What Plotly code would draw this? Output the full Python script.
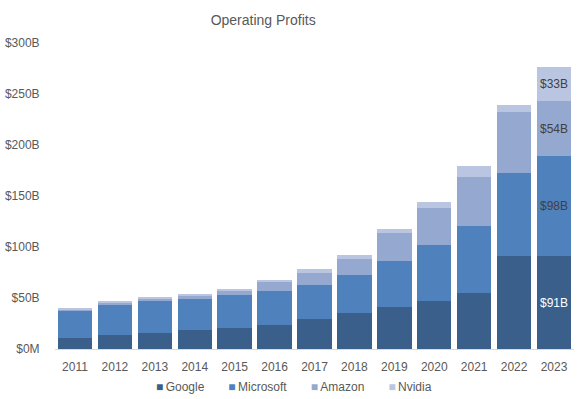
import plotly.graph_objects as go

years = ["2011", "2012", "2013", "2014", "2015", "2016", "2017",
         "2018", "2019", "2020", "2021", "2022", "2023"]
google = [10.8, 13.4, 16.0, 18.9, 20.9, 23.8, 29.1, 35.3, 41.2, 47.1, 54.9, 90.8, 91]
microsoft = [26.7, 30.0, 31.4, 30.4, 32.3, 33.4, 33.3, 37.2, 45.1, 54.9, 65.3, 81.7, 98]
amazon = [1.4, 1.7, 1.9, 3.0, 4.3, 8.2, 12.4, 16.1, 27.7, 36.5, 48.4, 59.8, 54]
nvidia = [1.0, 1.0, 1.0, 1.6, 1.3, 2.2, 3.6, 3.6, 3.3, 5.3, 11.1, 6.5, 33]

tick_vals = [0, 50, 100, 150, 200, 250, 300]
tick_text = ["$0M", "$50B", "$100B", "$150B", "$200B", "$250B", "$300B"]

series = [
    ("Google", google, "#3A5F8B", "#FFFFFF"),
    ("Microsoft", microsoft, "#4F81BD", "#404040"),
    ("Amazon", amazon, "#95A9D0", "#404040"),
    ("Nvidia", nvidia, "#BAC6E1", "#404040"),
]

FONT = "Liberation Sans, Arial, sans-serif"

fig = go.Figure()
for name, vals, color, tcolor in series:
    labels = [""] * (len(vals) - 1) + ["$%dB" % round(vals[-1])]
    fig.add_trace(go.Bar(
        x=years, y=vals, name=name,
        marker=dict(color=color, line=dict(width=0)),
        text=labels, textposition="inside", insidetextanchor="middle",
        textfont=dict(color=tcolor, size=12, family=FONT),
        textangle=0, hoverinfo="x+y+name", showlegend=False,
    ))

# legend drawn as a single line of text: coloured square + series name
legend_text = "\u2003\u2003".join(
    "<span style='color:%s'>\u25A0</span>\u2009%s" % (color, name)
    for name, _, color, _ in series
)

fig.update_layout(
    barmode="stack",
    bargap=0.14,
    width=581, height=399,
    margin=dict(l=55, r=7, t=43, b=50, autoexpand=False),
    paper_bgcolor="white", plot_bgcolor="white",
    font=dict(family=FONT, size=12, color="#595959"),
    title=dict(text="Operating Profits", x=0.453, xanchor="center",
               y=0.95, yanchor="middle",
               font=dict(size=14, color="#595959")),
    uniformtext=dict(mode="show", minsize=12),
    showlegend=False,
    annotations=[dict(text=legend_text, xref="paper", yref="paper",
                      x=0.46, xanchor="center", y=-0.124, yanchor="middle",
                      showarrow=False,
                      font=dict(size=12, color="#595959", family=FONT))],
    xaxis=dict(showline=True, linecolor="#D9D9D9", linewidth=1,
               ticks="outside", ticklen=7, tickcolor="rgba(0,0,0,0)",
               showgrid=False, automargin=False,
               tickfont=dict(size=12, color="#595959")),
    yaxis=dict(range=[0, 300], tickvals=tick_vals, ticktext=tick_text,
               showgrid=False, zeroline=False, showline=False,
               ticks="outside", ticklen=12, tickcolor="rgba(0,0,0,0)",
               automargin=False,
               tickfont=dict(size=12, color="#595959")),
)

fig.write_html("out.html",
               config={"displayModeBar": False},
               post_script="document.body.style.margin='0';")
